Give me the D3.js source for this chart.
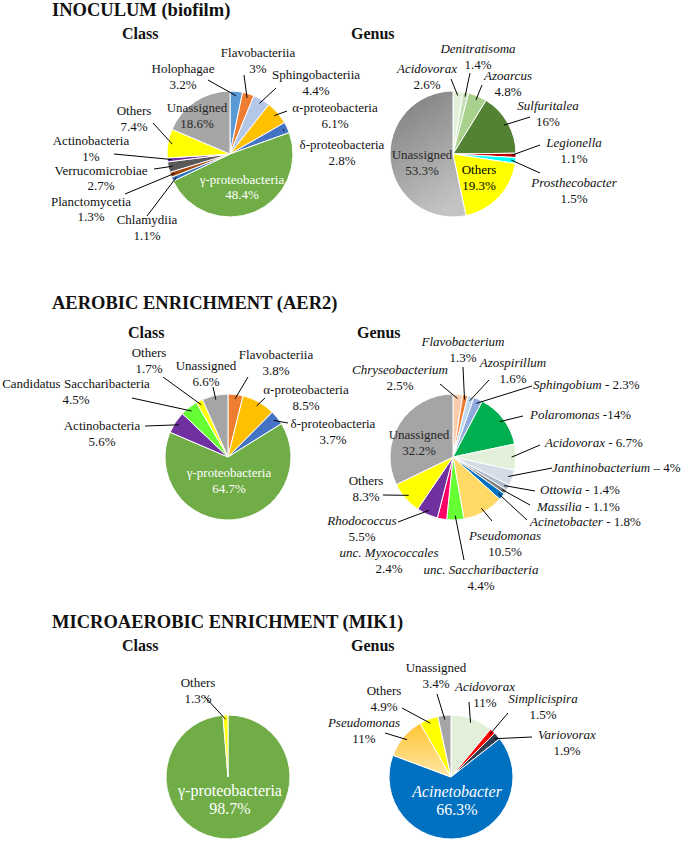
<!DOCTYPE html>
<html><head><meta charset="utf-8">
<script src="https://cdn.jsdelivr.net/npm/d3@7"></script>
<style>
body{margin:0;background:#fff}
svg{display:block}
text{font-family:"Liberation Serif","Times New Roman",serif;fill:#111}
</style>
</head><body>
<svg id="c" width="685" height="841"></svg>
<script>
// ---------------- DATA ----------------
const sectionTitles = ["INOCULUM (biofilm)", "AEROBIC ENRICHMENT (AER2)", "MICROAEROBIC ENRICHMENT (MIK1)"];
const panelTitles = ["Class", "Genus"];

const inocClassNames = ["Holophagae","Flavobacteriia","Sphingobacteriia","α-proteobacteria","δ-proteobacteria","γ-proteobacteria","Chlamydiia","Planctomycetia","Verrucomicrobiae","Actinobacteria","Others","Unassigned"];
const inocClassValues = [3.2,3,4.4,6.1,2.8,48.4,1.1,1.3,2.7,1,7.4,18.6];
const inocClassColors = ["#5B9BD5","#ED7D31","#B4C7E7","#FFC000","#4472C4","#70AD47","#2E75B6","#9E480E","#595959","#7030A0","#FFFF00","#A5A5A5"];

const inocGenusNames = ["Acidovorax","Denitratisoma","Azoarcus","Sulfuritalea","Legionella","Prosthecobacter","Others","Unassigned"];
const inocGenusValues = [2.6,1.4,4.8,16,1.1,1.5,19.3,53.3];
const inocGenusColors = ["#E2F0D9","#C5E0B4","#A9D18E","#548235","#C00000","#00FFFF","#FFFF00","url(#grayGrad)"];

const aerClassNames = ["Flavobacteriia","α-proteobacteria","δ-proteobacteria","γ-proteobacteria","Actinobacteria","Candidatus Saccharibacteria","Others","Unassigned"];
const aerClassValues = [3.8,8.5,3.7,64.7,5.6,4.5,1.7,6.6];
const aerClassColors = ["#ED7D31","#FFC000","#4472C4","#70AD47","#7030A0","#66FF33","#FFFF00","#A5A5A5"];

const aerGenusNames = ["Chryseobacterium","Flavobacterium","Azospirillum","Sphingobium","Polaromonas","Acidovorax","Janthinobacterium","Ottowia","Massilia","Acinetobacter","Pseudomonas","unc. Saccharibacteria","unc. Myxococcales","Rhodococcus","Others","Unassigned"];
const aerGenusValues = [2.5,1.3,1.6,2.3,14,6.7,4,1.4,1.1,1.8,10.5,4.4,2.4,5.5,8.3,32.2];
const aerGenusColors = ["#F8CBAD","#ED7D31","#BDD7EE","#8FAADC","#00B050","#E2F0D9","#D6DCE5","#ADB9CA","#7F7F7F","#0070C0","#FFD966","#66FF33","#FF0066","#7030A0","#FFFF00","#A5A5A5"];

const mikClassNames = ["γ-proteobacteria","Others"];
const mikClassValues = [98.7,1.3];
const mikClassColors = ["#70AD47","#FFFF00"];

const mikGenusNames = ["Acidovorax","Simplicispira","Variovorax","Acinetobacter","Pseudomonas","Others","Unassigned"];
const mikGenusValues = [11,1.5,1.9,66.3,11,4.9,3.4];
const mikGenusColors = ["#E2F0D9","#FF0000","#333F50","#0070C0","url(#pseudoGrad)","#FFFF00","#A5A5A5"];

// ---------------- LAYOUT (positions / styles) ----------------
const W = "#fff", DK = "#262626";
const pies = [
 {cx:230, cy:154, r:63, names:inocClassNames, values:inocClassValues, colors:inocClassColors, labels:[
   {x:183,y:73,from:[208,80]},
   {x:258,y:57,from:[244,75]},
   {x:316,y:79,from:[276,88]},
   {x:335,y:112,from:[287,111]},
   {x:342,y:149,from:[284,131]},
   {x:242,y:184,color:W,lh:15},
   {x:147,y:224,from:[147,216]},
   {x:91,y:206,lh:15,from:[125,194]},
   {x:101,y:175,lh:15,from:[154,169]},
   {x:91,y:145,from:[114,154]},
   {x:134,y:115,from:[153,123]},
   {x:197,y:112,color:DK}
 ]},
 {cx:453, cy:154, r:63, names:inocGenusNames, values:inocGenusValues, colors:inocGenusColors, labels:[
   {x:427,y:73,it:1,from:[451,79]},
   {x:478,y:53,it:1,from:[470,73]},
   {x:508,y:80,it:1,from:[482,85]},
   {x:548,y:110,it:1,from:[530,117]},
   {x:574,y:147,it:1,from:[540,145]},
   {x:574,y:187,it:1,from:[540,173]},
   {x:479,y:174,color:"#000"},
   {x:422,y:159,color:DK}
 ]},
 {cx:228, cy:457, r:63, names:aerClassNames, values:aerClassValues, colors:aerClassColors, labels:[
   {x:276,y:359,from:[248,377]},
   {x:306,y:394,from:[265,398]},
   {x:333,y:428,from:[288,423]},
   {x:229,y:477,color:W},
   {x:102,y:430,from:[145,426]},
   {x:76,y:388,from:[132,398]},
   {x:149,y:357,from:[163,377]},
   {x:206,y:370,from:[213,387]}
 ]},
 {cx:453, cy:457, r:63, names:aerGenusNames, values:aerGenusValues, colors:aerGenusColors, labels:[
   {x:400,y:374,it:1,from:[440,384]},
   {x:463,y:346,it:1,from:[463,367]},
   {x:513,y:367,it:1,from:[489,380]},
   {x:533,y:389,it:1,one:" - ",from:[532,386]},
   {x:530,y:419,it:1,one:" -",from:[523,416]},
   {x:545,y:447,it:1,one:" - ",from:[540,445]},
   {x:552,y:472,it:1,one:" – ",from:[552,468]},
   {x:540,y:494,it:1,one:" - ",from:[535,491]},
   {x:537,y:511,it:1,one:" - ",from:[530,505]},
   {x:530,y:526,it:1,one:" - ",from:[527,520]},
   {x:505,y:540,it:1,from:[492,521]},
   {x:481,y:574,it:1,from:[464,560]},
   {x:389,y:557,it:1},
   {x:362,y:525,it:1,from:[398,522]},
   {x:366,y:485,from:[383,495]},
   {x:419,y:439,color:DK}
 ]},
 {cx:228, cy:777, r:62, names:mikClassNames, values:mikClassValues, colors:mikClassColors, labels:[
   {x:230,y:796,color:W,fs:16,lh:18},
   {x:198,y:687,from:[205,697]}
 ]},
 {cx:451, cy:777, r:62, names:mikGenusNames, values:mikGenusValues, colors:mikGenusColors, labels:[
   {x:485,y:691,it:1,from:[469,702]},
   {x:543,y:703,it:1,from:[508,713]},
   {x:567,y:739,it:1,from:[532,737]},
   {x:457,y:797,it:1,color:W,fs:16,lh:18},
   {x:364,y:727,it:1,from:[385,733]},
   {x:384,y:695,from:[402,708]},
   {x:436,y:672,from:[437,694]}
 ]}
];
const titlePos = [{x:52,y:16},{x:52,y:309},{x:52,y:628}];
const panelPos = [[{x:122,y:39},{x:351,y:39}],[{x:128,y:338},{x:357,y:338}],[{x:122,y:651},{x:351,y:651}]];

// ---------------- DRAW ----------------
const svg = d3.select("#c");
const defs = svg.append("defs");
const g1 = defs.append("linearGradient").attr("id","grayGrad").attr("x1",0.2).attr("y1",0).attr("x2",0.6).attr("y2",1);
g1.append("stop").attr("offset","0%").attr("stop-color","#7F7F7F");
g1.append("stop").attr("offset","100%").attr("stop-color","#C4C4C4");
const g2 = defs.append("linearGradient").attr("id","pseudoGrad").attr("x1",0).attr("y1",0).attr("x2",0).attr("y2",1);
g2.append("stop").attr("offset","0%").attr("stop-color","#FFC532");
g2.append("stop").attr("offset","100%").attr("stop-color","#FFE7A6");

sectionTitles.forEach((t,i)=>{
  svg.append("text").attr("x",titlePos[i].x).attr("y",titlePos[i].y)
    .attr("font-size",18.5).attr("font-weight","bold").text(t);
  panelTitles.forEach((p,j)=>{
    svg.append("text").attr("x",panelPos[i][j].x).attr("y",panelPos[i][j].y)
      .attr("font-size",16).attr("font-weight","bold").text(p);
  });
});

const fmt = v => String(v) + "%";

pies.forEach(cfg=>{
  const data = cfg.names.map((n,i)=>({n, v:cfg.values[i], c:cfg.colors[i], L:cfg.labels[i]}));
  const arcs = d3.pie().sort(null).value(d=>d.v)(data);
  const arc = d3.arc().innerRadius(0).outerRadius(cfg.r);
  const edge = d3.arc().innerRadius(cfg.r*0.93).outerRadius(cfg.r*0.93);
  const g = svg.append("g").attr("transform",`translate(${cfg.cx},${cfg.cy})`);
  g.selectAll("path").data(arcs).join("path")
    .attr("d",arc).attr("fill",d=>d.data.c)
    .attr("stroke","#fff").attr("stroke-width",1).attr("stroke-linejoin","round");

  arcs.forEach(a=>{
    const L = a.data.L; if(!L) return;
    const fs = L.fs || 13, lh = L.lh || 16;
    const isIt = !!L.it && a.data.n !== "Others" && a.data.n !== "Unassigned";
    if (L.from) {
      const p = edge.centroid(a);
      svg.append("line").attr("x1",L.from[0]).attr("y1",L.from[1])
        .attr("x2",cfg.cx+p[0]).attr("y2",cfg.cy+p[1])
        .attr("stroke","#000").attr("stroke-width",1);
    }
    const t = svg.append("text").attr("font-size",fs).style("fill",L.color||"#111");
    if (L.one) {
      t.attr("x",L.x).attr("y",L.y).attr("text-anchor","start");
      t.append("tspan").attr("font-style","italic").text(a.data.n);
      t.append("tspan").text(L.one + fmt(a.data.v));
    } else {
      t.attr("text-anchor","middle");
      t.append("tspan").attr("x",L.x).attr("y",L.y).attr("font-style",isIt?"italic":"normal").text(a.data.n);
      t.append("tspan").attr("x",L.x).attr("y",L.y+lh).text(fmt(a.data.v));
    }
  });
});
</script>
</body></html>
